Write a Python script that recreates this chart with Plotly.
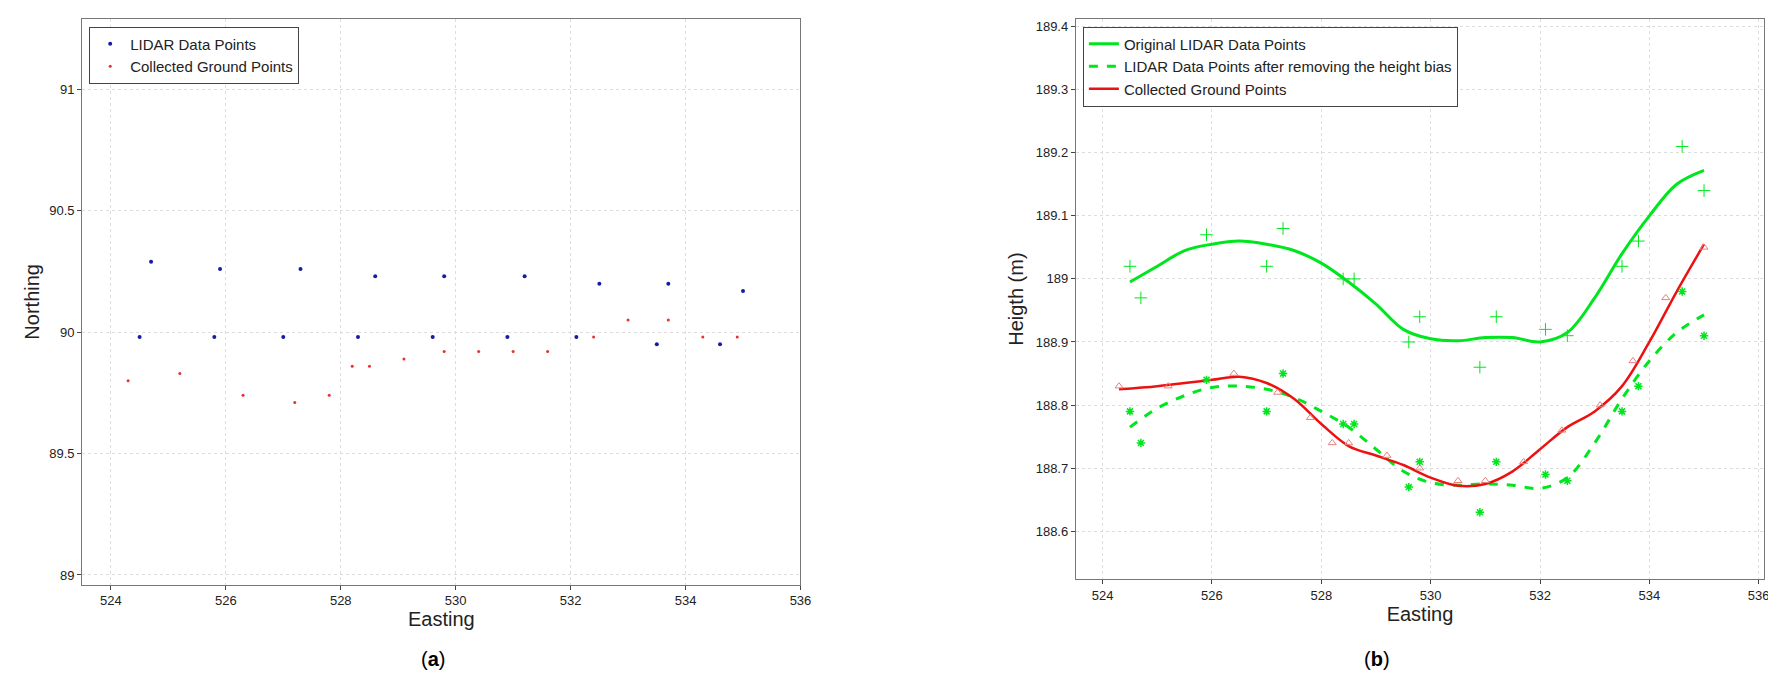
import plotly.graph_objects as go

# (a) plan view
lidar_e = [524.5, 524.7, 525.8, 525.9, 527.0, 527.3, 528.3, 528.6, 529.6, 529.8, 530.9, 531.2, 532.1, 532.5, 533.5, 533.7, 534.6, 535.0]
lidar_n = [89.98, 90.29, 89.98, 90.26, 89.98, 90.26, 89.98, 90.23, 89.98, 90.23, 89.98, 90.23, 89.98, 90.20, 89.95, 90.20, 89.95, 90.17]
ground_e = [524.3, 525.2, 526.3, 527.2, 527.8, 528.2, 528.5, 529.1, 529.8, 530.4, 531.0, 531.6, 532.4, 533.0, 533.7, 534.3, 534.9]
ground_n = [89.80, 89.83, 89.74, 89.71, 89.74, 89.86, 89.86, 89.89, 89.92, 89.92, 89.92, 89.92, 89.98, 90.05, 90.05, 89.98, 89.98]

# (b) heights
orig_pts_e = [524.5, 524.7, 525.9, 527.0, 527.3, 528.4, 528.6, 529.6, 529.8, 530.9, 531.2, 532.1, 532.5, 533.5, 533.8, 534.6, 535.0]
orig_pts_h = [189.02, 188.97, 189.07, 189.02, 189.08, 189.0, 189.0, 188.9, 188.94, 188.86, 188.94, 188.92, 188.91, 189.02, 189.06, 189.21, 189.14]
corr_pts_h = [188.79, 188.74, 188.84, 188.79, 188.85, 188.77, 188.77, 188.67, 188.71, 188.63, 188.71, 188.69, 188.68, 188.79, 188.83, 188.98, 188.91]
gp_e = [524.3, 525.2, 526.4, 527.2, 527.8, 528.2, 528.5, 529.2, 529.8, 530.5, 531.0, 531.7, 532.4, 533.1, 533.7, 534.3, 535.0]
gp_h = [188.83, 188.83, 188.85, 188.82, 188.78, 188.74, 188.74, 188.72, 188.70, 188.68, 188.68, 188.71, 188.76, 188.80, 188.87, 188.97, 189.05]

curve_e = [524.5, 525, 525.5, 526, 526.5, 527, 527.5, 528, 528.5, 529, 529.5, 530, 530.5, 531, 531.5, 532, 532.5, 533, 533.5, 534, 534.5, 535]
orig_curve = [188.995, 189.02, 189.045, 189.055, 189.06, 189.055, 189.045, 189.025, 188.995, 188.96, 188.92, 188.905, 188.902, 188.907, 188.907, 188.9, 188.915, 188.97, 189.04, 189.1, 189.15, 189.172]
corr_curve = [188.765, 188.795, 188.815, 188.828, 188.83, 188.825, 188.812, 188.79, 188.765, 188.73, 188.695, 188.677, 188.673, 188.675, 188.673, 188.668, 188.685, 188.74, 188.81, 188.87, 188.915, 188.943]
red_e = [524.3, 525, 525.5, 526, 526.5, 527, 527.5, 528, 528.5, 529, 529.5, 530, 530.5, 531, 531.5, 532, 532.5, 533, 533.5, 534, 534.5, 535]
red_curve = [188.825, 188.83, 188.835, 188.84, 188.845, 188.835, 188.81, 188.77, 188.735, 188.72, 188.705, 188.685, 188.672, 188.675, 188.695, 188.73, 188.765, 188.79, 188.83, 188.9, 188.98, 189.055]

GREEN = '#00e61e'
font = dict(family='Liberation Sans, Arial', color='#222')

fig = go.Figure()
fig.add_trace(go.Scatter(x=lidar_e, y=lidar_n, mode='markers', name='LIDAR Data Points',
                         marker=dict(color='#1a1aa0', size=4), legend='legend'))
fig.add_trace(go.Scatter(x=ground_e, y=ground_n, mode='markers', name='Collected Ground Points',
                         marker=dict(color='#e83030', size=3), legend='legend'))

fig.add_trace(go.Scatter(x=curve_e, y=orig_curve, mode='lines', name='Original LIDAR Data Points',
                         line=dict(color=GREEN, width=3, shape='spline'), xaxis='x2', yaxis='y2', legend='legend2'))
fig.add_trace(go.Scatter(x=curve_e, y=corr_curve, mode='lines', name='LIDAR Data Points after removing the height bias',
                         line=dict(color=GREEN, width=3, dash='dash', shape='spline'), xaxis='x2', yaxis='y2', legend='legend2'))
fig.add_trace(go.Scatter(x=red_e, y=red_curve, mode='lines', name='Collected Ground Points',
                         line=dict(color='#ee1111', width=2.5, shape='spline'), xaxis='x2', yaxis='y2', legend='legend2'))
fig.add_trace(go.Scatter(x=orig_pts_e, y=orig_pts_h, mode='markers', showlegend=False,
                         marker=dict(symbol='cross-thin', size=9, line=dict(color=GREEN, width=1)), xaxis='x2', yaxis='y2'))
fig.add_trace(go.Scatter(x=orig_pts_e, y=corr_pts_h, mode='markers', showlegend=False,
                         marker=dict(symbol='asterisk', size=7, line=dict(color=GREEN, width=1.5)), xaxis='x2', yaxis='y2'))
fig.add_trace(go.Scatter(x=gp_e, y=gp_h, mode='markers', showlegend=False,
                         marker=dict(symbol='triangle-up-open', size=7, color='#e88080', line=dict(width=1)), xaxis='x2', yaxis='y2'))

axis = dict(showline=True, linecolor='#777', mirror=True, ticks='outside', ticklen=4,
            showgrid=True, gridcolor='#ddd', griddash='dot', zeroline=False,
            tickfont=dict(size=13, color='#222'))
fig.update_layout(
    width=1776, height=689, margin=dict(l=0, r=0, t=0, b=0),
    paper_bgcolor='white', plot_bgcolor='white', font=font,
    xaxis=dict(axis, domain=[0.042, 0.449], range=[523.5, 536.0], dtick=2,
               title=dict(text='Easting', font=dict(size=20), standoff=4), anchor='y'),
    yaxis=dict(axis, domain=[0.163, 0.984], range=[88.96, 91.29], tickvals=[89, 89.5, 90, 90.5, 91],
               ticktext=['89', '89.5', '90', '90.5', '91'],
               title=dict(text='Northing', font=dict(size=20), standoff=4), anchor='x'),
    xaxis2=dict(axis, domain=[0.605, 0.995], range=[523.51, 536.1], dtick=2,
                title=dict(text='Easting', font=dict(size=20), standoff=4), anchor='y2'),
    yaxis2=dict(axis, domain=[0.171, 0.984], range=[188.524, 189.412],
                tickvals=[188.6, 188.7, 188.8, 188.9, 189, 189.1, 189.2, 189.3, 189.4],
                ticktext=['188.6', '188.7', '188.8', '188.9', '189', '189.1', '189.2', '189.3', '189.4'],
                title=dict(text='Heigth (m)', font=dict(size=20), standoff=6), anchor='x2'),
    legend=dict(x=0.046, y=0.973, xanchor='left', yanchor='top', bgcolor='white',
                bordercolor='#444', borderwidth=1, font=dict(size=15)),
    legend2=dict(x=0.609, y=0.973, xanchor='left', yanchor='top', bgcolor='white',
                 bordercolor='#444', borderwidth=1, font=dict(size=15), tracegroupgap=0),
    annotations=[
        dict(text='(<b>a</b>)', x=0.233, y=0.036, xref='paper', yref='paper', showarrow=False, font=dict(size=20, color='#000')),
        dict(text='(<b>b</b>)', x=0.784, y=0.036, xref='paper', yref='paper', showarrow=False, font=dict(size=20, color='#000')),
    ],
)
fig.write_html("out.html")
